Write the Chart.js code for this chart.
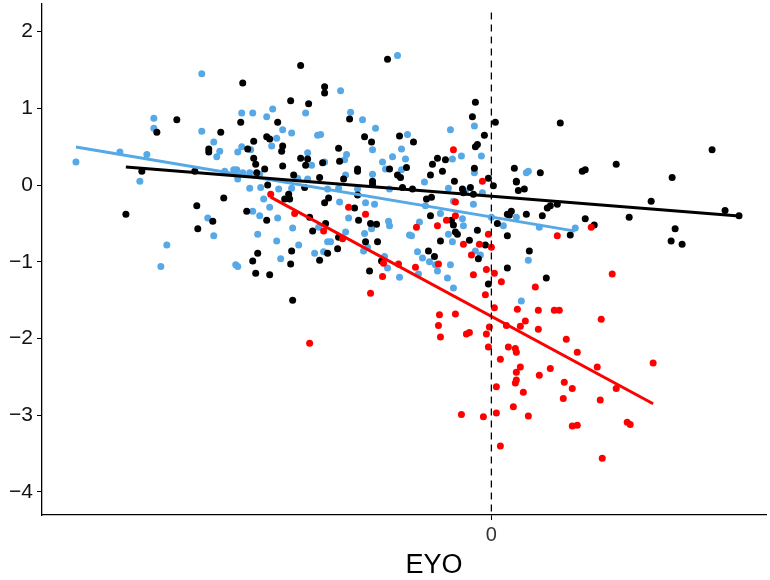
<!DOCTYPE html>
<html>
<head>
<meta charset="utf-8">
<title>EYO</title>
<script src="https://cdn.jsdelivr.net/npm/chart.js@4.4.1/dist/chart.umd.min.js"></script>
<style>
html, body { margin: 0; padding: 0; background: #fff; }
</style>
</head>
<body>
<canvas id="eyoChart" width="770" height="580"></canvas>
<script>
// ---------------- DATA ----------------
const xTitle = 'EYO';
const xTicks = [0];
const yTicks = [-4, -3, -2, -1, 0, 1, 2];

const blackX = [
  -31.5,-33.5,-27.1,-28.3,-28.3,-35.0,-29.7,-36.6,-29.5,-26.8,-27.9,-29.4,
  -10.4,-19.1,-24.9,-16.7,-16.7,-20.1,-18.3,-25.1,-21.4,-14.2,-12.7,-12.0,-9.2,-22.5,-22.2,-23.8,-20.9,-21.0,
  -24.4,-15.3,-23.8,-19.1,-18.4,-18.6,-16.9,-15.2,-23.6,-20.9,-22.7,-13.4,-13.4,-10.2,-8.5,-23.5,-19.8,-17.2,-14.8,-11.9,-9.4,-9.1,
  -1.6,-1.9,0.4,6.9,-7.8,-0.7,-1.4,-1.6,-5.4,-4.6,-5.9,-4.9,-6.1,-1.7,2.3,4.9,9.1,-0.3,-3.7,2.5,
  12.5,22.1,18.1,9.4,
  16.0,23.4,24.8,13.8,9.4,10.3,18.4,18.0,19.1,
  -2.9,-2.1,0.2,2.5,2.7,3.3,-7.9,-6.5,-6.0,-2.8,-1.8,5.6,5.9,6.6,2.0,1.6,1.8,3.5,5.1,7.9,
  -6.1,-4.0,-3.8,0.6,-1.4,-3.6,-3.4,1.6,-5.1,-2.2,-0.6,-6.3,-5.7,3.8,-1.3,1.6,5.5,-0.3,
  -22.4,-18.7,-13.4,-11.9,-8.9,-20.3,-20.7,-20.2,-16.3,-16.7,-13.7,-24.5,-22.5,-18.2,-13.3,-12.1,-11.5,
  -16.6,-17.9,-15.3,-12.6,-11.4,-15.4,-16.4,-20.0,-23.4,-17.2,-23.9,-20.1,-11.0,-23.6,-22.2,-12.2,-19.9
];
const blackY = [
  0.85,0.69,0.69,0.47,0.43,0.18,0.18,-0.38,-0.27,-0.17,-0.47,-0.57,
  1.64,1.56,1.33,1.28,1.20,1.10,1.06,0.82,0.82,0.86,0.63,0.56,0.64,0.63,0.60,0.57,0.51,0.44,
  0.47,0.48,0.35,0.35,0.34,0.26,0.29,0.31,0.27,0.25,0.21,0.21,0.18,0.21,0.23,0.16,0.13,0.10,0.08,0.05,0.13,0.10,
  1.08,0.89,0.82,0.81,0.56,0.65,0.53,0.50,0.35,0.33,0.27,0.18,0.13,0.22,0.22,0.16,0.18,0.09,0.05,0.05,
  0.27,0.46,0.10,0.20,
  -0.21,-0.33,-0.40,-0.42,-0.44,-0.52,-0.57,-0.73,-0.77,
  -0.05,-0.03,-0.01,0.04,-0.07,-0.05,-0.05,-0.18,-0.16,-0.10,-0.12,-0.30,-0.27,-0.25,-0.34,-0.38,-0.39,-0.38,-0.40,-0.65,
  -0.40,-0.46,-0.52,-0.50,-0.59,-0.61,-0.64,-0.66,-0.73,-0.72,-0.78,-0.86,-0.93,-0.86,-0.96,-1.08,-1.21,-1.29,
  0.00,-0.03,-0.13,0.01,-0.03,-0.12,-0.18,-0.18,-0.17,-0.23,-0.30,-0.34,-0.46,-0.42,-0.46,-0.50,-0.51,
  -0.50,-0.60,-0.68,-0.74,-0.74,-0.83,-0.89,-0.86,-0.89,-0.98,-0.99,-1.03,-0.99,-1.15,-1.17,-1.12,-1.50
];

const blueX = [
  -29.0,-33.8,-33.8,-29.0,-27.8,-27.2,-27.5,-37.2,-34.5,-41.6,-26.7,-25.8,-35.2,
  -28.4,-27.8,-32.5,-33.1,-25.6,
  -9.4,-15.1,-25.0,-23.9,-21.9,-18.6,-14.1,-22.5,-12.9,-11.6,-20.9,-20.0,-17.4,-17.1,-8.4,-21.5,-22.0,-25.0,-25.4,-24.1,
  -11.9,-9.0,-18.4,-14.5,-18.0,-16.7,-14.7,-10.9,-9.9,-8.6,-10.6,-9.0,-25.5,-24.9,-24.2,-23.2,-19.4,-18.4,-14.6,-11.9,-25.4,
  -1.7,-4.1,-3.9,-3.0,-1.0,-1.7,3.5,3.7,-6.7,
  -4.3,-2.6,-0.9,-3.8,-1.8,-6.6,-5.1,2.5,0.0,4.8,8.4,-2.9,-2.8,-7.2,1.2,-4.3,-8.0,-3.9,-7.4,-6.9,
  -1.6,-1.1,-6.2,-5.6,-4.1,3.7,-5.4,-7.3,-4.4,-3.8,3.0,
  -24.2,-23.1,-21.3,-20.0,-16.4,-15.3,-13.4,-10.2,-22.8,-15.2,-12.6,-11.7,-22.2,-23.9,-23.2,-21.4,-14.3,-10.3,-10.2,-17.3,
  -19.9,-12.0,-12.7,-8.2,-23.4,-14.6,-16.4,-16.1,-19.3,-21.5,-12.4,-12.8,-16.8,-17.7,-21.1,-25.4,-10.7,-10.4,-9.2
];
const blueY = [
  1.45,0.87,0.74,0.70,0.56,0.44,0.37,0.43,0.40,0.30,0.18,0.20,0.05,
  -0.43,-0.66,-0.78,-1.06,-1.04,
  1.69,1.23,0.94,0.94,0.99,0.94,0.95,0.89,0.85,0.74,0.72,0.68,0.65,0.66,0.66,0.61,0.51,0.50,0.43,0.46,
  0.46,0.47,0.42,0.40,0.26,0.30,0.33,0.30,0.37,0.34,0.21,0.20,0.20,0.16,0.16,0.14,0.09,0.08,0.13,0.14,0.08,
  0.77,0.72,0.34,0.38,0.38,0.16,0.16,0.18,0.04,
  -0.04,-0.08,-0.10,-0.21,-0.25,-0.27,-0.37,-0.42,-0.42,-0.55,-0.56,-0.44,-0.53,-0.48,-0.53,-0.64,-0.66,-0.74,-0.87,-0.95,
  -0.86,-0.91,-1.00,-1.04,-1.04,-0.98,-1.12,-1.16,-1.21,-1.34,-1.51,
  -0.04,-0.03,-0.05,-0.04,-0.05,-0.04,-0.05,-0.05,-0.18,-0.22,-0.23,-0.25,-0.29,-0.34,-0.40,-0.43,-0.43,-0.47,-0.53,-0.55,
  -0.56,-0.57,-0.63,-0.65,-0.64,-0.61,-0.74,-0.74,-0.78,-0.73,-0.81,-0.86,-0.87,-0.89,-0.96,-1.06,-0.93,-1.08,-1.20
];

const redX = [
  -3.8,-0.9,-3.6,-4.5,-3.6,-5.4,-7.5,6.6,-0.3,-2.8,-1.2,0.0,-2.0,-5.3,-7.6,-0.5,0.3,-1.8,1.0,4.4,
  -0.6,2.6,4.7,6.3,6.8,0.3,-5.2,-3.6,3.4,-5.3,-5.1,-2.5,-2.2,-0.5,-0.2,1.5,2.9,4.7,7.5,8.6,
  -0.3,1.7,2.4,2.5,0.9,2.9,2.5,5.9,4.8,2.5,2.4,7.3,8.1,0.5,3.2,7.2,2.2,0.5,3.7,-3.0,
  -0.8,8.1,8.6,0.9,10.6,16.2,12.5,10.9,13.6,13.9,11.1,12.1,11.0,10.0,
  -22.1,-14.3,-12.6,-19.7,-16.8,-14.9,-10.8,-9.3,-10.9,-12.1,-18.2
];
const redY = [
  0.46,0.05,-0.22,-0.46,-0.40,-0.53,-0.55,-0.66,-0.64,-0.77,-0.77,-0.81,-0.91,-1.03,-1.07,-1.10,-1.15,-1.17,-1.26,-1.33,
  -1.43,-1.62,-1.63,-1.63,-1.63,-1.60,-1.69,-1.68,-1.77,-1.83,-1.98,-1.94,-1.92,-1.94,-1.85,-1.83,-1.84,-1.88,-2.01,-2.18,
  -2.11,-2.11,-2.13,-2.18,-2.27,-2.37,-2.44,-2.39,-2.48,-2.54,-2.58,-2.57,-2.65,-2.63,-2.70,-2.78,-2.89,-2.97,-3.01,-2.99,
  -3.02,-3.14,-3.13,-3.40,-2.37,-2.32,-2.65,-2.80,-3.09,-3.12,-3.56,-1.16,-1.75,-0.55,
  -0.12,-0.29,-0.38,-0.37,-0.60,-0.70,-1.02,-1.03,-1.19,-1.41,-2.06
];

// fitted lines: [intercept at EYO = 0, slope]
const blackFit = [-0.146, -0.0104];
const blueFit  = [-0.416, -0.0219];
const redFit   = [-1.711, -0.0703];

// ---------------- HELPERS ----------------
const BLACK = '#000000';
const BLUE = '#56a9e6';
const RED = '#ff0000';

function points(xs, ys){
  return xs.map((x, i) => ({x: x, y: ys[i]}));
}

function fitLine(xs, fit){
  const lo = Math.min(...xs), hi = Math.max(...xs);
  return [
    {x: lo, y: fit[0] + fit[1] * lo},
    {x: hi, y: fit[0] + fit[1] * hi}
  ];
}

function scatterSet(xs, ys, color, order){
  return {
    type: 'scatter',
    data: points(xs, ys),
    backgroundColor: color,
    borderColor: color,
    borderWidth: 0,
    pointRadius: 3.5,
    order: order
  };
}

function lineSet(data, color, width, dash){
  return {
    type: 'line',
    data: data,
    borderColor: color,
    borderWidth: width,
    borderDash: dash || [],
    pointRadius: 0,
    fill: false,
    tension: 0,
    order: 0
  };
}

const X_MIN = -45.0, X_MAX = 27.5;
const Y_MIN = -4.30, Y_MAX = 2.36;

// axis title sits off-centre, under the right half of the panel
const axisTitle = {
  id: 'axisTitle',
  afterDraw(chart){
    const c = chart.ctx;
    c.save();
    c.fillStyle = '#000';
    c.font = '27px "Liberation Sans"';
    c.textAlign = 'center';
    c.textBaseline = 'middle';
    c.fillText(xTitle, 434, 566);
    c.restore();
  }
};

// ---------------- CHART ----------------
new Chart(document.getElementById('eyoChart'), {
  data: {
    datasets: [
      lineSet([{x: 0, y: 2.25}, {x: 0, y: Y_MIN}], BLACK, 1.3, [7, 5]),
      lineSet(fitLine(blackX, blackFit), BLACK, 3),
      lineSet(fitLine(blueX, blueFit), BLUE, 3),
      lineSet(fitLine(redX, redFit), RED, 3),
      scatterSet(redX, redY, RED, 1),
      scatterSet(blackX, blackY, BLACK, 2),
      scatterSet(blueX, blueY, BLUE, 3)
    ]
  },
  options: {
    responsive: false,
    animation: false,
    layout: {padding: 0},
    plugins: {
      legend: {display: false},
      tooltip: {enabled: false}
    },
    scales: {
      x: {
        type: 'linear',
        min: X_MIN,
        max: X_MAX,
        afterBuildTicks: s => { s.ticks = xTicks.map(v => ({value: v})); },
        afterFit: s => { s.height = 65; s.paddingLeft = 0; s.paddingRight = 0; },
        grid: {display: true, drawOnChartArea: false, drawTicks: true, tickLength: 5, color: '#000', lineWidth: 1},
        border: {display: true, color: '#000', width: 1.3},
        ticks: {
          color: '#333',
          padding: 3,
          font: {family: 'Liberation Sans', size: 20},
          callback: v => String(v)
        },
        title: {display: false}
      },
      y: {
        type: 'linear',
        min: Y_MIN,
        max: Y_MAX,
        afterBuildTicks: s => { s.ticks = yTicks.map(v => ({value: v})); },
        afterFit: s => { s.width = 42; s.paddingTop = 0; s.paddingBottom = 0; },
        grid: {display: true, drawOnChartArea: false, drawTicks: true, tickLength: 5, color: '#000', lineWidth: 1},
        border: {display: true, color: '#000', width: 1.3},
        ticks: {
          color: '#111',
          padding: 4,
          font: {family: 'Liberation Sans', size: 21},
          callback: v => v < 0 ? '\u2212' + Math.abs(v) : String(v)
        }
      }
    }
  },
  plugins: [axisTitle]
});
</script>
</body>
</html>
